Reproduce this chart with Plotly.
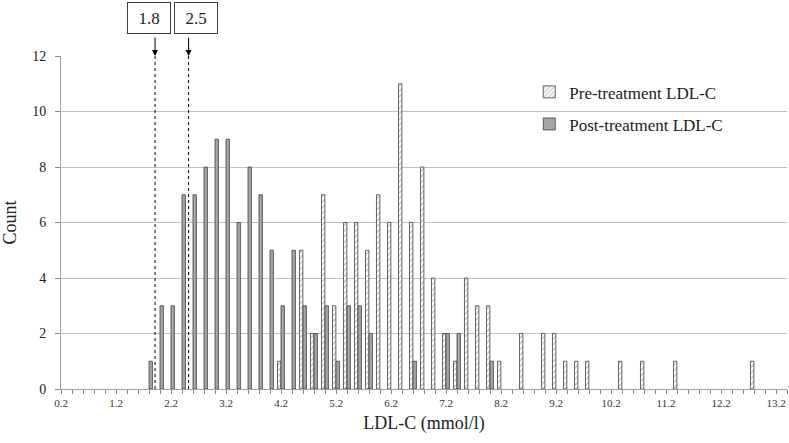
import plotly.graph_objects as go

## Data (bins of 0.2 mmol/l, count per bin) -------------------------------------------------

pre_bins = [4.2, 4.6, 4.8, 5.0, 5.2, 5.4, 5.6, 5.8, 6.0, 6.2, 6.4, 6.6, 6.8, 7.0, 7.2,
            7.4, 7.6, 7.8, 8.0, 8.2, 8.6, 9.0, 9.2, 9.4, 9.6, 9.8, 10.4, 10.8, 11.4, 12.8]
pre_counts = [1, 5, 2, 7, 3, 6, 6, 5, 7, 6, 11, 6, 8, 4, 2,
              1, 4, 3, 3, 1, 2, 2, 2, 1, 1, 1, 1, 1, 1, 1]

post_bins = [1.8, 2.0, 2.2, 2.4, 2.6, 2.8, 3.0, 3.2, 3.4, 3.6, 3.8, 4.0, 4.2, 4.4, 4.6,
             4.8, 5.0, 5.2, 5.4, 5.6, 5.8, 6.6, 7.2, 7.4, 8.0]
post_counts = [1, 3, 3, 7, 7, 8, 9, 9, 6, 8, 7, 5, 3, 5, 3,
               2, 3, 1, 3, 3, 2, 1, 2, 2, 1]

x_ticks = [0.2, 1.2, 2.2, 3.2, 4.2, 5.2, 6.2, 7.2, 8.2, 9.2, 10.2, 11.2, 12.2, 13.2]

# target thresholds marked on top of the chart
threshold_labels = ["1.8", "2.5"]
threshold_x = [1.91, 2.52]
box_x = [1.80, 2.66]

serif = "Liberation Serif, Times New Roman, serif"

## Figure ------------------------------------------------------------------------------------

fig = go.Figure()

fig.add_trace(go.Bar(x=pre_bins, y=pre_counts, name="Pre-treatment LDL-C",
                     width=0.062, offset=-0.064, legendgroup="pre",
                     marker=dict(color="white",
                                 pattern=dict(shape="/", fgcolor="#7f7f7f", bgcolor="white",
                                              size=4, solidity=0.35),
                                 line=dict(color="#404040", width=0.8))))

fig.add_trace(go.Bar(x=post_bins, y=post_counts, name="Post-treatment LDL-C",
                     width=0.062, offset=0.0, legendgroup="post",
                     marker=dict(color="#a6a6a6", line=dict(color="#404040", width=0.8))))

for xv in threshold_x:
    fig.add_shape(type="line", xref="x", yref="paper", x0=xv, x1=xv, y0=0, y1=1,
                  line=dict(color="black", width=1, dash="dot"))
    fig.add_annotation(x=xv, y=1.0, xref="x", yref="paper", text="", showarrow=True,
                       ax=0, ay=-20, arrowhead=2, arrowsize=1.2, arrowwidth=1,
                       arrowcolor="black")

for lab, bx in zip(threshold_labels, box_x):
    fig.add_annotation(x=bx, y=1.1156, xref="x", yref="paper", text=lab, showarrow=False,
                       xanchor="center", yanchor="middle",
                       font=dict(family=serif, size=17, color="#222"),
                       bordercolor="#404040", borderwidth=1, width=40, height=28,
                       bgcolor="white")

fig.update_layout(
    width=789, height=443,
    margin=dict(l=61, r=2, t=56, b=54),
    plot_bgcolor="white", paper_bgcolor="white",
    barmode="overlay",
    font=dict(family=serif, color="#222"),
    legend=dict(x=0.645, y=0.945, xanchor="left", yanchor="top",
                font=dict(family=serif, size=17, color="#222"),
                tracegroupgap=7, bgcolor="rgba(0,0,0,0)"),
    showlegend=True,
)

fig.update_xaxes(range=[0.2, 13.4], tickvals=x_ticks, ticktext=[str(t) for t in x_ticks],
                 ticks="outside", ticklen=4, tickcolor="#888", showline=True,
                 linecolor="#a0a0a0", linewidth=1, showgrid=False, zeroline=False,
                 ticklabeloverflow="allow",
                 minor=dict(dtick=0.2, tick0=0.2, ticks="outside", ticklen=4, tickcolor="#888"),
                 tickfont=dict(family=serif, size=11, color="#333"),
                 title=dict(text="LDL-C (mmol/l)", font=dict(family=serif, size=18), standoff=8))

fig.update_yaxes(range=[0, 12], dtick=2, ticks="outside", ticklen=5, tickcolor="#888",
                 ticklabelstandoff=6,
                 showline=True, linecolor="#a0a0a0", linewidth=1,
                 showgrid=True, gridcolor="#c0c0c0", gridwidth=1, zeroline=False,
                 tickfont=dict(family=serif, size=14, color="#222"),
                 title=dict(text="Count", font=dict(family=serif, size=18), standoff=14))

# page body has a default margin; drop it so the figure starts at the window corner
fig.write_html("out.html", config={"displayModeBar": False},
               post_script="document.body.style.margin='0';")
